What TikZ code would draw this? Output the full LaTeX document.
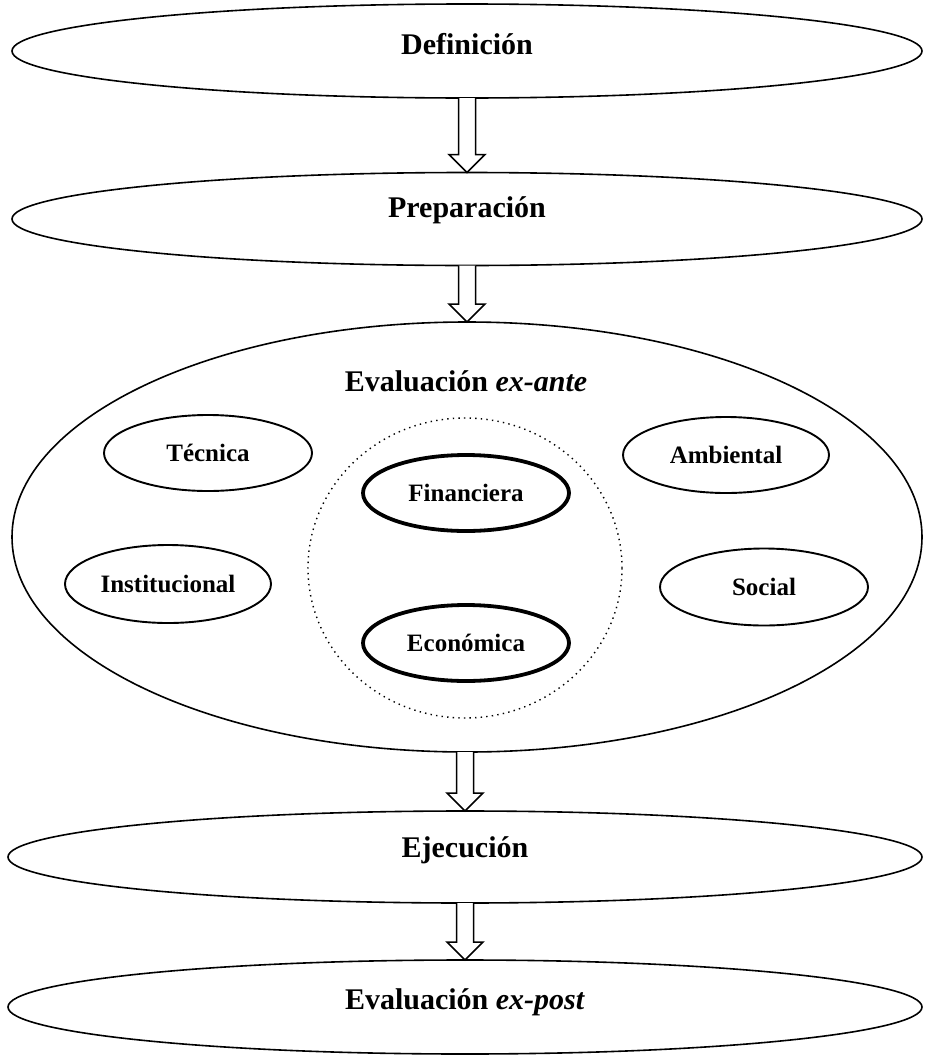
\documentclass[tikz,border=0pt]{standalone}
\usepackage{fontspec}
\setmainfont{Liberation Serif}
\usetikzlibrary{shapes.geometric,calc}
\begin{document}
\begin{tikzpicture}[x=1pt,y=-1pt,
  outerell/.style={draw,ellipse,line width=1.6pt,inner sep=0pt,outer sep=0pt},
  innerell/.style={draw,ellipse,line width=1.9pt,inner sep=0pt,outer sep=0pt},
  keyell/.style={draw,ellipse,line width=3.8pt,inner sep=0pt,outer sep=0pt},
  dotell/.style={draw,ellipse,line width=1.4pt,dash pattern=on 1.4pt off 4.2pt,inner sep=0pt,outer sep=0pt},
  bigtext/.style={anchor=base,inner sep=0pt,font=\fontsize{30}{35}\selectfont\bfseries},
  smalltext/.style={anchor=base,inner sep=0pt,font=\fontsize{25}{29}\selectfont\bfseries},
  blockarrow/.style={draw,line width=1.5pt,line join=miter,fill=white}]
\useasboundingbox (0,0) rectangle (924,1055);
% main stages
\node[outerell,minimum width=910pt,minimum height=94pt] (def) at (467,51) {};
\node[outerell,minimum width=910pt,minimum height=93pt] (prep) at (467,219) {};
\node[outerell,minimum width=910pt,minimum height=430pt] (exante) at (467,537) {};
\node[outerell,minimum width=914pt,minimum height=92pt] (ejec) at (465,857) {};
\node[outerell,minimum width=914pt,minimum height=94pt] (expost) at (465,1007) {};
\node[bigtext] (tdef) at (467,54) {Definición};
\node[bigtext] (tprep) at (467,217) {Preparación};
\node[bigtext] (texante) at (466,391) {Evaluación \textit{ex-ante}};
\node[bigtext] (tejec) at (465,857) {Ejecución};
\node[bigtext] (texpost) at (465,1009) {Evaluación \textit{ex-post}};
% inner ellipses
\node[dotell,minimum width=314pt,minimum height=300pt] (core) at (465,568) {};
\node[innerell,minimum width=208pt,minimum height=76pt] (tec) at (208,453) {};
\node[innerell,minimum width=206pt,minimum height=76pt] (amb) at (726,455) {};
\node[innerell,minimum width=206pt,minimum height=78pt] (inst) at (168,584) {};
\node[innerell,minimum width=208pt,minimum height=77pt] (soc) at (764,587) {};
\node[keyell,minimum width=206pt,minimum height=76pt] (fin) at (466,493) {};
\node[keyell,minimum width=206pt,minimum height=76pt] (eco) at (466,643) {};
\node[smalltext] at ($(tec)+(0,8.5)$) {Técnica};
\node[smalltext] at ($(amb)+(0,8.5)$) {Ambiental};
\node[smalltext] at ($(inst)+(0,8.5)$) {Institucional};
\node[smalltext] at ($(soc)+(0,8.5)$) {Social};
\node[smalltext] at ($(fin)+(0,8.5)$) {Financiera};
\node[smalltext] at ($(eco)+(0,8.5)$) {Económica};
% block arrows
\foreach \a/\b in {def/prep,prep/exante,exante/ejec,ejec/expost}{
  \draw[blockarrow] ($(\a.south -| \b.north)+(-8.5,0)$) -- ($(\b.north)+(-8.5,-18)$) -- ($(\b.north)+(-18,-18)$)
    -- (\b.north) -- ($(\b.north)+(18,-18)$) -- ($(\b.north)+(8.5,-18)$) -- ($(\a.south -| \b.north)+(8.5,0)$);
}
\end{tikzpicture}
\end{document}
